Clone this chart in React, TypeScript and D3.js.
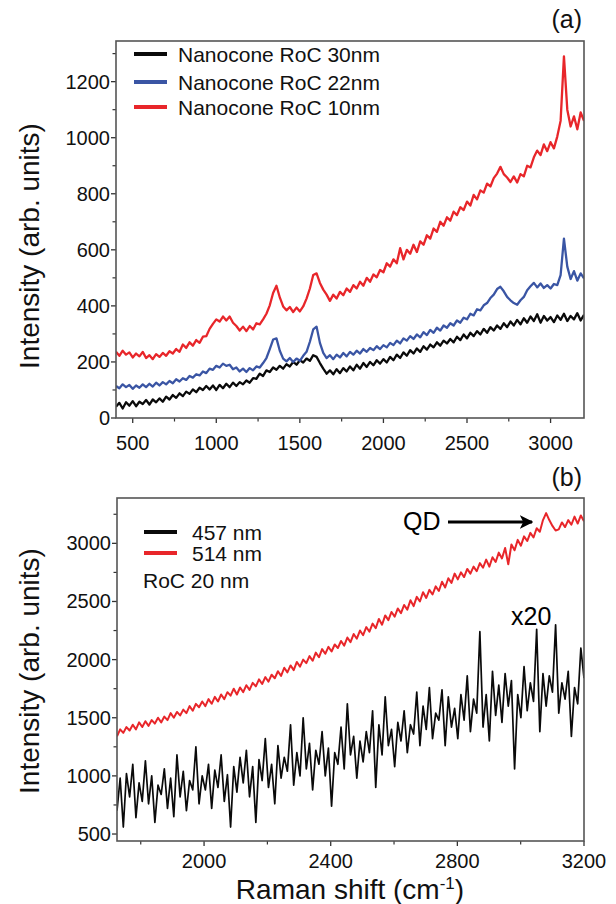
import React from "react";
import * as d3 from "d3";

// ---------- Panel (a) data: Raman shift 400..3200 (evenly spaced samples, every 20 cm-1) ----------
const shiftA_start = 400;
const shiftA_end = 3200;
const roc30nm = [
  40, 54, 34, 56, 44, 60, 42, 58, 50, 64,
  48, 66, 56, 70, 58, 76, 66, 82, 72, 88,
  78, 94, 86, 102, 92, 108, 100, 114, 102, 116,
  100, 118, 106, 122, 110, 126, 114, 128, 120, 134,
  126, 142, 140, 158, 150, 170, 164, 180, 172, 186,
  176, 192, 184, 200, 190, 206, 198, 212, 204, 224,
  218, 196, 176, 158, 170, 156, 174, 160, 178, 166,
  184, 170, 190, 176, 196, 182, 200, 188, 206, 194,
  210, 198, 218, 206, 226, 214, 234, 222, 242, 230,
  248, 236, 256, 244, 262, 252, 270, 258, 276, 266,
  282, 270, 290, 278, 298, 284, 304, 292, 310, 298,
  318, 304, 324, 312, 330, 318, 338, 324, 344, 330,
  350, 334, 356, 340, 362, 346, 370, 340, 364, 348,
  360, 342, 366, 350, 372, 346, 364, 352, 374, 348,
  368,
];
const roc22nm = [
  114, 106, 120, 110, 118, 104, 116, 108, 120, 110,
  122, 112, 126, 116, 128, 120, 132, 124, 138, 130,
  142, 136, 150, 144, 156, 152, 166, 160, 176, 172,
  186, 180, 194, 186, 190, 174, 180, 166, 176, 164,
  178, 170, 184, 180, 196, 214, 246, 280, 284, 240,
  212, 202, 214, 200, 212, 204, 222, 236, 272, 316,
  326, 268, 232, 214, 224, 210, 226, 216, 232, 220,
  236, 226, 240, 230, 246, 236, 250, 242, 256, 246,
  260, 252, 268, 260, 276, 266, 284, 276, 292, 282,
  298, 288, 306, 296, 314, 304, 322, 312, 330, 322,
  338, 330, 348, 340, 358, 352, 372, 366, 388, 384,
  402, 410, 428, 440, 460, 468, 452, 432, 420, 410,
  404, 420, 432, 456, 470, 482, 466, 480, 464, 474,
  462, 478, 474, 510, 640, 540, 496, 524, 490, 516,
  498,
];
const roc10nm = [
  236, 222, 240, 226, 234, 216, 230, 220, 236, 214,
  224, 210, 228, 218, 232, 222, 238, 230, 246, 236,
  262, 250, 270, 258, 278, 268, 290, 292, 318, 336,
  352, 344, 362, 348, 362, 340, 328, 312, 326, 310,
  328, 316, 338, 334, 352, 372, 402, 446, 472, 430,
  398, 384, 396, 378, 394, 380, 398, 426, 462, 510,
  516, 482, 458, 440, 418, 440, 426, 450, 438, 462,
  450, 474, 462, 486, 472, 500, 486, 512, 502, 528,
  520, 552, 540, 566, 552, 606, 566, 600, 586, 618,
  592, 630, 618, 652, 640, 676, 664, 700, 686, 716,
  704, 736, 724, 752, 742, 772, 758, 796, 780, 812,
  804, 836, 826, 856, 872, 896, 870, 858, 842, 862,
  840, 870, 862, 900, 894, 930, 954, 938, 976, 952,
  984, 962, 1004, 1060, 1290, 1100, 1040, 1076, 1030, 1090,
  1060,
];

// ---------- Panel (b) data: Raman shift 1725..3200 (about every 10 cm-1) ----------
const shiftB_start = 1725;
const shiftB_end = 3200;
const laser514 = [
  1340, 1400, 1370, 1420, 1390, 1440, 1400, 1460, 1420, 1470,
  1430, 1480, 1450, 1500, 1460, 1510, 1480, 1540, 1500, 1550,
  1520, 1570, 1540, 1600, 1560, 1620, 1590, 1640, 1600, 1660,
  1620, 1680, 1640, 1700, 1660, 1720, 1690, 1750, 1700, 1760,
  1720, 1780, 1740, 1800, 1770, 1830, 1790, 1850, 1810, 1870,
  1840, 1900, 1860, 1930, 1890, 1950, 1910, 1980, 1940, 2000,
  1970, 2030, 1990, 2060, 2020, 2090, 2050, 2110, 2070, 2130,
  2100, 2160, 2120, 2190, 2150, 2220, 2180, 2250, 2210, 2280,
  2240, 2310, 2270, 2350, 2300, 2380, 2340, 2410, 2370, 2440,
  2400, 2470, 2430, 2510, 2460, 2540, 2500, 2580, 2530, 2600,
  2560, 2630, 2590, 2670, 2620, 2700, 2660, 2740, 2690, 2750,
  2710, 2780, 2740, 2800, 2760, 2830, 2790, 2860, 2800, 2880,
  2840, 2920, 2870, 2960, 2820, 2990, 2940, 3030, 2980, 3060,
  3020, 3090, 3050, 3130, 3100, 3200, 3260, 3200, 3150, 3110,
  3120, 3180, 3140, 3200, 3160, 3230, 3170, 3240, 3190,
];
const laser457x20 = [
  700, 980, 560, 1020, 820, 1100, 640, 940, 780, 1130,
  760, 1000, 600, 920, 840, 1060, 720, 980, 650, 1180,
  820, 1040, 700, 960, 880, 1250, 760, 1000, 880, 1100,
  720, 1050, 900, 1180, 780, 1010, 560, 1080, 860, 1160,
  940, 1220, 820, 1080, 600, 1140, 960, 1320, 900, 1100,
  760, 1260, 980, 1160, 1040, 1440, 920, 1200, 1000, 1500,
  1060, 1280, 880, 1220, 1100, 1380, 1000, 1240, 740, 1200,
  1100, 1420, 1060, 1620, 1180, 1340, 980, 1300, 1120, 1380,
  1200, 1560, 900, 1440, 1180, 1680, 1260, 1400, 1080, 1460,
  1300, 1560, 1200, 1440, 1360, 1720, 1260, 1600, 1400, 1760,
  1320, 1540, 1480, 1740, 1260, 1680, 1420, 1580, 1320, 1700,
  1480, 1860, 1380, 1660, 1540, 2240, 1420, 1700, 1300, 1900,
  1520, 1780, 1460, 1880, 1600, 1820, 1060, 1700, 1500, 1940,
  1560, 1800, 1640, 2260, 1380, 1880, 1600, 1860, 1720, 2300,
  1540, 1800, 1660, 1900, 1340, 1760, 1620, 2100, 1840,
];

// ---------- ticks & labels ----------
const ticksAx = [500, 1000, 1500, 2000, 2500, 3000];
const minorAx = [750, 1250, 1750, 2250, 2750];
const ticksAy = [0, 200, 400, 600, 800, 1000, 1200];
const minorAy = [100, 300, 500, 700, 900, 1100, 1300];
const ticksBx = [2000, 2400, 2800, 3200];
const minorBx = [1800, 2200, 2600, 3000];
const ticksBy = [500, 1000, 1500, 2000, 2500, 3000];
const minorBy = [750, 1250, 1750, 2250, 2750, 3250];
const legendA = ["Nanocone RoC 30nm", "Nanocone RoC 22nm", "Nanocone RoC 10nm"];
const legendB = ["457 nm", "514 nm"];

const BLACK = "#0a0a0a";
const BLUE = "#3a55a4";
const RED = "#e8262a";
const FONT = "'Liberation Sans', Arial, Helvetica, sans-serif";

function toPoints(vals: number[], x0: number, x1: number) {
  const n = vals.length;
  return vals.map((v, i) => [x0 + (i * (x1 - x0)) / (n - 1), v] as [number, number]);
}

type Scale = d3.ScaleLinear<number, number>;

function Frame({ x, y, majX, minX, majY, minY, labelDy }: {
  x: Scale; y: Scale; majX: number[]; minX: number[]; majY: number[]; minY: number[]; labelDy: number;
}) {
  const [x0, x1] = x.range();
  const [y0, y1] = y.range();
  return (
    <g>
      {majX.map((t) => (
        <g key={"mx" + t}>
          <line x1={x(t)} x2={x(t)} y1={y0} y2={y0 + 5} stroke="#333" strokeWidth={1.3} />
          <text x={x(t)} y={y0 + labelDy} textAnchor="middle" fontSize={20} fontFamily={FONT} fill="#111">{t}</text>
        </g>
      ))}
      {minX.map((t) => (
        <line key={"nx" + t} x1={x(t)} x2={x(t)} y1={y0} y2={y0 + 3.5} stroke="#333" strokeWidth={1.2} />
      ))}
      {majY.map((t) => (
        <g key={"my" + t}>
          <line x1={x0} x2={x0 - 5} y1={y(t)} y2={y(t)} stroke="#333" strokeWidth={1.3} />
          <text x={x0 - 6} y={y(t) + 7} textAnchor="end" fontSize={20} fontFamily={FONT} fill="#111">{t}</text>
        </g>
      ))}
      {minY.map((t) => (
        <line key={"ny" + t} x1={x0} x2={x0 - 3.5} y1={y(t)} y2={y(t)} stroke="#333" strokeWidth={1.2} />
      ))}
      <rect x={x0} y={y1} width={x1 - x0} height={y0 - y1} fill="none" stroke="#555" strokeWidth={1.6} />
    </g>
  );
}

export default function App() {
  const xA = d3.scaleLinear().domain([400, 3200]).range([116, 584]);
  const yA = d3.scaleLinear().domain([0, 1345]).range([418, 41]);
  const xB = d3.scaleLinear().domain([shiftB_start, shiftB_end]).range([117, 584]);
  const yB = d3.scaleLinear().domain([440, 3390]).range([841, 498]);

  const lineA = d3.line<[number, number]>().x((d) => xA(d[0])).y((d) => yA(d[1]));
  const lineB = d3.line<[number, number]>().x((d) => xB(d[0])).y((d) => yB(d[1]));

  const seriesA = [
    { vals: roc30nm, color: BLACK },
    { vals: roc22nm, color: BLUE },
    { vals: roc10nm, color: RED },
  ];
  const legendAColors = [BLACK, BLUE, RED];
  const legendAY = [54, 82, 107];
  const legendBColors = [BLACK, RED];
  const legendBY = [532, 553];

  return (
    <svg width={616} height={904} style={{ position: "absolute", left: 0, top: 0, background: "#fff" }}>
      <defs>
        <clipPath id="clipA"><rect x={116} y={41} width={468} height={377} /></clipPath>
        <clipPath id="clipB"><rect x={117} y={498} width={467} height={343} /></clipPath>
        <marker id="arrow" viewBox="0 0 10 10" refX={9} refY={5} markerWidth={4.5} markerHeight={4.5} orient="auto">
          <path d="M0,0 L10,5 L0,10 L2.5,5 Z" fill="#000" />
        </marker>
      </defs>

      {/* Panel (a) */}
      <text x={582} y={28} textAnchor="end" fontSize={25} fontFamily={FONT} fill="#111">(a)</text>
      <g clipPath="url(#clipA)">
        {seriesA.map((s, i) => (
          <path key={i} d={lineA(toPoints(s.vals, shiftA_start, shiftA_end)) || ""} fill="none"
            stroke={s.color} strokeWidth={2.3} strokeLinejoin="round" />
        ))}
      </g>
      <Frame x={xA} y={yA} majX={ticksAx} minX={minorAx} majY={ticksAy} minY={minorAy} labelDy={32} />
      {legendA.map((t, i) => (
        <g key={t}>
          <line x1={134} x2={167} y1={legendAY[i]} y2={legendAY[i]} stroke={legendAColors[i]} strokeWidth={4} />
          <text x={178} y={legendAY[i] + 7.5} fontSize={21} fontFamily={FONT} fill="#111">{t}</text>
        </g>
      ))}
      <text transform={`translate(39,${246}) rotate(-90)`} textAnchor="middle" fontSize={28} fontFamily={FONT} fill="#111">
        Intensity (arb. units)
      </text>

      {/* Panel (b) */}
      <text x={582} y={486} textAnchor="end" fontSize={25} fontFamily={FONT} fill="#111">(b)</text>
      <g clipPath="url(#clipB)">
        <path d={lineB(toPoints(laser457x20, shiftB_start, shiftB_end)) || ""} fill="none" stroke={BLACK} strokeWidth={1.7} strokeLinejoin="round" />
        <path d={lineB(toPoints(laser514, shiftB_start, shiftB_end)) || ""} fill="none" stroke={RED} strokeWidth={2} strokeLinejoin="round" />
      </g>
      <Frame x={xB} y={yB} majX={ticksBx} minX={minorBx} majY={ticksBy} minY={minorBy} labelDy={27} />
      {legendB.map((t, i) => (
        <g key={t}>
          <line x1={144} x2={177} y1={legendBY[i]} y2={legendBY[i]} stroke={legendBColors[i]} strokeWidth={4} />
          <text x={192} y={legendBY[i] + 7.5} fontSize={21} fontFamily={FONT} fill="#111">{t}</text>
        </g>
      ))}
      <text x={143} y={588} fontSize={21} fontFamily={FONT} fill="#111">RoC 20 nm</text>
      <text x={403} y={530} fontSize={25} fontFamily={FONT} fill="#000">QD</text>
      <line x1={448} x2={532} y1={522} y2={522} stroke="#000" strokeWidth={3} markerEnd="url(#arrow)" />
      <text x={511} y={625} fontSize={25} fontFamily={FONT} fill="#000">x20</text>
      <text transform={`translate(39,${671}) rotate(-90)`} textAnchor="middle" fontSize={28} fontFamily={FONT} fill="#111">
        Intensity (arb. units)
      </text>
      <text x={350} y={899} textAnchor="middle" fontSize={28} fontFamily={FONT} fill="#111">
        Raman shift (cm<tspan dy={-10} fontSize={17}>-1</tspan><tspan dy={10}>)</tspan>
      </text>
    </svg>
  );
}
